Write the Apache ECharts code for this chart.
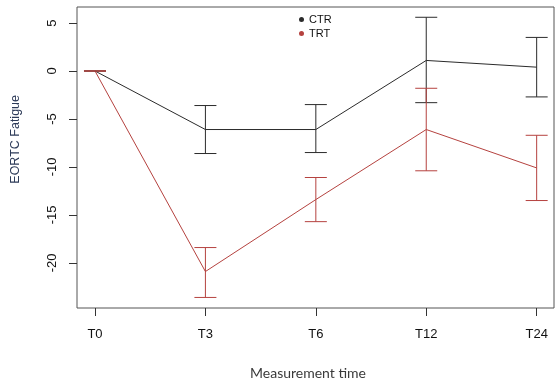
<!DOCTYPE html>
<html>
<head>
<meta charset="utf-8">
<script src="https://cdn.jsdelivr.net/npm/echarts@6/dist/echarts.min.js"></script>
<style>html,body{margin:0;padding:0;background:#fff}#c{width:555px;height:390px}</style>
</head>
<body>
<div id="c"></div>
<script>
var categories = ['T0', 'T3', 'T6', 'T12', 'T24'];
var ctrMean = [0, -6.1, -6.1, 1.1, 0.4];
var ctrLow  = [0, -8.6, -8.5, -3.3, -2.7];
var ctrHigh = [0, -3.6, -3.5, 5.6, 3.5];
var trtMean = [0, -20.9, -13.4, -6.1, -10.1];
var trtLow  = [0, -23.6, -15.7, -10.4, -13.5];
var trtHigh = [0, -18.4, -11.1, -1.8, -6.7];
var yTicks = [-20, -15, -10, -5, 0, 5];
var xTicks = [0, 1, 2, 3, 4];

var CTR_COLOR = '#2b2b2b';
var TRT_COLOR = '#b5423f';

function pts(arr) { return arr.map(function (v, i) { return [i, v]; }); }
function errData(low, high) { return low.map(function (v, i) { return [i, v, high[i]]; }); }

function errRender(color) {
  return function (params, api) {
    var x = api.value(0);
    var lo = api.coord([x, api.value(1)]);
    var hi = api.coord([x, api.value(2)]);
    var hw = 11;
    var st = { stroke: color, lineWidth: 1 };
    return {
      type: 'group',
      children: [
        { type: 'line', shape: { x1: lo[0], y1: lo[1], x2: hi[0], y2: hi[1] }, style: st },
        { type: 'line', shape: { x1: lo[0] - hw, y1: lo[1], x2: lo[0] + hw, y2: lo[1] }, style: st },
        { type: 'line', shape: { x1: hi[0] - hw, y1: hi[1], x2: hi[0] + hw, y2: hi[1] }, style: st }
      ]
    };
  };
}

var chart = echarts.init(document.getElementById('c'), null, { renderer: 'canvas' });
chart.setOption({
  animation: false,
  backgroundColor: '#fff',
  grid: { left: 77, top: 7, width: 477, height: 301, show: true, borderColor: '#555', borderWidth: 1, backgroundColor: 'transparent' },
  legend: {
    data: ['CTR', 'TRT'],
    orient: 'vertical',
    left: 294, top: 9,
    icon: 'circle',
    itemWidth: 5, itemHeight: 5, itemGap: 3,
    textStyle: { fontFamily: 'Liberation Sans', fontSize: 11, color: '#111', lineHeight: 11 }
  },
  xAxis: {
    type: 'value', min: -0.163, max: 4.157,
    splitLine: { show: false },
    axisLine: { show: false, onZero: false },
    axisTick: { show: true, customValues: xTicks, length: 8, lineStyle: { color: '#333' } },
    axisLabel: {
      customValues: xTicks, margin: 20,
      fontFamily: 'Liberation Sans', fontSize: 13, color: '#111',
      formatter: function (v) { return categories[Math.round(v)]; }
    }
  },
  yAxis: {
    type: 'value', min: -24.7, max: 6.67,
    splitLine: { show: false },
    axisLine: { show: false, onZero: false },
    axisTick: { show: true, customValues: yTicks, length: 8, lineStyle: { color: '#333' } },
    axisLabel: {
      customValues: yTicks, rotate: 90, margin: 18,
      fontFamily: 'Liberation Sans', fontSize: 13, color: '#111'
    }
  },
  graphic: [
    { type: 'text', left: 9, top: 95, rotation: Math.PI / 2, style: { text: 'EORTC Fatigue', fontFamily: 'Liberation Sans', fontSize: 12.5, fill: '#2c3a58' } },
    { type: 'text', left: 250, top: 366, style: { text: 'Measurement time', fontFamily: 'Lato', fontSize: 14, fill: '#3a3a3a' } }
  ],
  series: [
    { name: 'CTR', type: 'line', data: pts(ctrMean), symbol: 'none', itemStyle: { color: CTR_COLOR }, lineStyle: { color: CTR_COLOR, width: 1 }, z: 2 },
    { name: 'TRT', type: 'line', data: pts(trtMean), symbol: 'none', itemStyle: { color: TRT_COLOR }, lineStyle: { color: TRT_COLOR, width: 1 }, z: 2 },
    { name: 'ctrErr', type: 'custom', data: errData(ctrLow, ctrHigh), renderItem: errRender(CTR_COLOR), z: 3 },
    { name: 'trtErr', type: 'custom', data: errData(trtLow, trtHigh), renderItem: errRender(TRT_COLOR), z: 3 }
  ]
});
</script>
</body>
</html>
